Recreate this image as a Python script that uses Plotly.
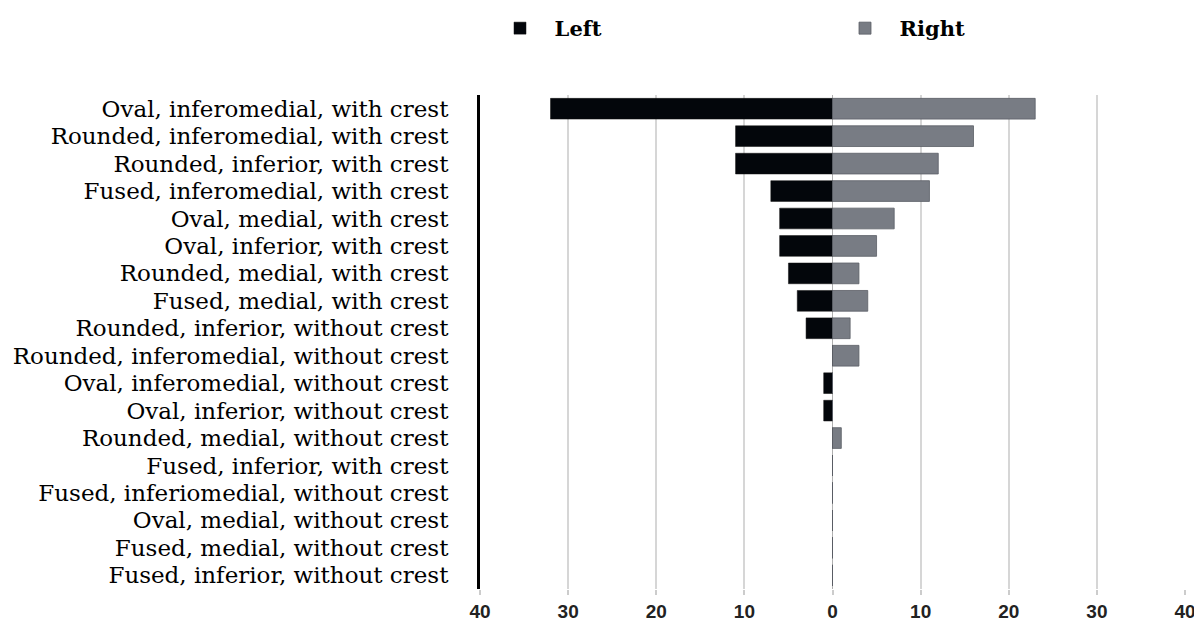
import plotly.graph_objects as go

categories = [
    "Oval, inferomedial, with crest",
    "Rounded, inferomedial, with crest",
    "Rounded, inferior, with crest",
    "Fused, inferomedial, with crest",
    "Oval, medial, with crest",
    "Oval, inferior, with crest",
    "Rounded, medial, with crest",
    "Fused, medial, with crest",
    "Rounded, inferior, without crest",
    "Rounded, inferomedial, without crest",
    "Oval, inferomedial, without crest",
    "Oval, inferior, without crest",
    "Rounded, medial, without crest",
    "Fused, inferior, with crest",
    "Fused, inferiomedial, without crest",
    "Oval, medial, without crest",
    "Fused, medial, without crest",
    "Fused, inferior, without crest",
]
left_values = [32, 11, 11, 7, 6, 6, 5, 4, 3, 0, 1, 1, 0, 0, 0, 0, 0, 0]
right_values = [23, 16, 12, 11, 7, 5, 3, 4, 2, 3, 0, 0, 1, 0, 0, 0, 0, 0]
tick_values = [-40, -30, -20, -10, 0, 10, 20, 30, 40]
tick_labels = ["40", "30", "20", "10", "0", "10", "20", "30", "40"]

serif = "DejaVu Serif, serif"
nb = "\u00a0\u00a0"

fig = go.Figure()
fig.add_trace(go.Bar(
    y=categories, x=[-v for v in left_values], name=nb + "Left", orientation="h",
    marker=dict(color="#03060b", line=dict(color="#111", width=0.5)),
    customdata=left_values, hovertemplate="%{y}: %{customdata}<extra>Left</extra>",
))
fig.add_trace(go.Bar(
    y=categories, x=right_values, name=nb + "Right", orientation="h",
    marker=dict(color="#787c84", line=dict(color="#5a5e66", width=0.8)),
    hovertemplate="%{y}: %{x}<extra>Right</extra>",
))

fig.update_layout(
    width=1202, height=621,
    barmode="relative",
    bargap=0.245,
    plot_bgcolor="white", paper_bgcolor="white",
    margin=dict(l=472, r=25, t=87, b=40, autoexpand=False),
    font=dict(family=serif, color="black"),
    legend=dict(
        orientation="h", x=492 / 1202, y=1.0, xref="container", yref="container",
        xanchor="left", yanchor="top",
        font=dict(family=serif, size=21, color="black", weight="bold"),
        entrywidth=300, traceorder="normal",
    ),
    xaxis=dict(
        range=[-40, 40], tickvals=tick_values, ticktext=tick_labels,
        showgrid=True, gridcolor="#d6d6d6", gridwidth=1.5,
        zeroline=True, zerolinecolor="#b0b0b0", zerolinewidth=1,
        ticks="outside", ticklen=5, tickcolor="#cccccc", tickwidth=1.5,
        tickfont=dict(family="Liberation Sans, Arial, sans-serif", size=19, color="#222", weight="bold"),
        showline=False, fixedrange=True, automargin=False,
    ),
    yaxis=dict(
        autorange="reversed", showline=True, linecolor="black", linewidth=3,
        tickmode="array", tickvals=categories, ticktext=categories,
        tickfont=dict(family=serif, size=23, color="black"),
        ticklabelstandoff=24, showgrid=False, automargin=False,
    ),
)

fig.write_html("out.html")
